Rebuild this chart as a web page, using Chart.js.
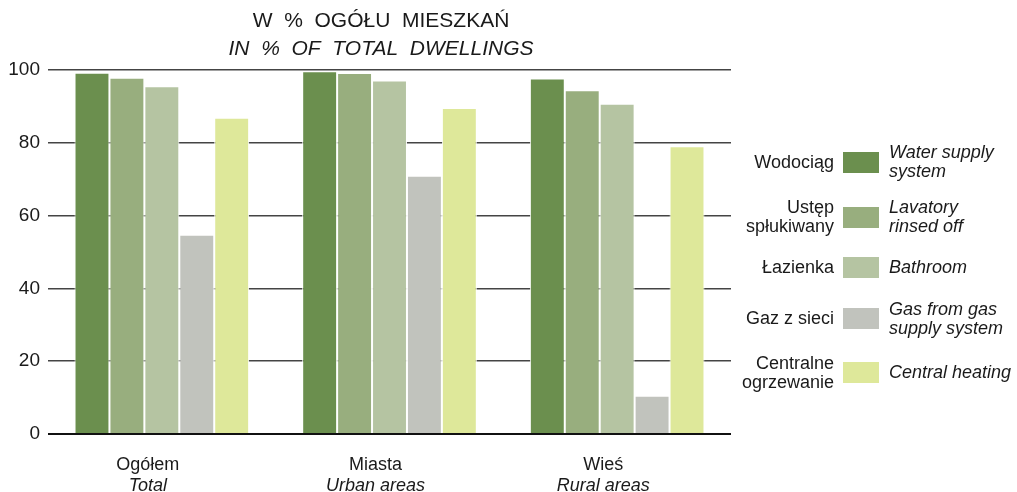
<!DOCTYPE html>
<html>
<head>
<meta charset="utf-8">
<script src="https://cdn.jsdelivr.net/npm/chart.js@4.4.0/dist/chart.umd.min.js"></script>
<style>
  html, body { margin: 0; padding: 0; background: #fff; }
  body { width: 1017px; height: 492px; position: relative; overflow: hidden;
         font-family: "Liberation Sans", Arial, sans-serif; color: #1a1a1a; }
  #wrap { position: absolute; left: 0; top: 0; width: 762px; height: 492px; }
  .row { position: absolute; left: 730px; width: 287px; height: 60px;
         display: flex; align-items: center; font-size: 18px; line-height: 19px; }
  .pl { width: 104px; text-align: right; margin-right: 9px; }
  .sw { width: 36px; height: 21px; flex: none; }
  .en { margin-left: 10px; font-style: italic; }
</style>
</head>
<body>
<div id="wrap"><canvas id="myChart"></canvas></div>
<div id="legend"></div>
<script>
// data
const categoriesPl = ['Ogółem', 'Miasta', 'Wieś'];
const categoriesEn = ['Total', 'Urban areas', 'Rural areas'];

const seriesPl = ['Wodociąg', 'Ustęp\nspłukiwany', 'Łazienka', 'Gaz z sieci', 'Centralne\nogrzewanie'];
const seriesEn = ['Water supply\nsystem', 'Lavatory\nrinsed off', 'Bathroom', 'Gas from gas\nsupply system', 'Central heating'];

const water    = [99.3, 99.7, 97.7];
const lavatory = [97.9, 99.2, 94.5];
const bathroom = [95.6, 97.2, 90.8];
const gas      = [54.8, 71.0, 10.5];
const heating  = [86.9, 89.6, 79.1];

const yTicks = [0, 20, 40, 60, 80, 100];

const colors = ['#6b8f4e', '#98ae7e', '#b5c4a2', '#c1c3bd', '#dee89a'];

const FONT = '"Liberation Sans", Arial, sans-serif';

// legend (html, right side)
const legendRowTops = [132, 187, 237, 288.5, 342.5];
const legend = document.getElementById('legend');
seriesPl.forEach((name, i) => {
  const row = document.createElement('div');
  row.className = 'row';
  row.style.top = legendRowTops[i] + 'px';
  row.innerHTML = '<div class="pl">' + name.replace('\n', '<br>') + '</div>' +
    '<div class="sw" style="background:' + colors[i] + '"></div>' +
    '<div class="en">' + seriesEn[i].replace('\n', '<br>') + '</div>';
  legend.appendChild(row);
});

// two-line category labels, second line italic
const catLabels = {
  id: 'catLabels',
  afterDraw(chart) {
    const ctx = chart.ctx;
    const x = chart.scales.x;
    const bottom = chart.chartArea.bottom;
    ctx.save();
    ctx.fillStyle = '#1a1a1a';
    ctx.textAlign = 'center';
    ctx.textBaseline = 'alphabetic';
    categoriesPl.forEach((c, i) => {
      const px = x.getPixelForValue(i) - 14;
      ctx.font = '18px ' + FONT;
      ctx.fillText(c, px, bottom + 36);
      ctx.font = 'italic 18px ' + FONT;
      ctx.fillText(categoriesEn[i], px, bottom + 57);
    });
    ctx.restore();
  }
};

// zero line on top of the bars
const zeroLine = {
  id: 'zeroLine',
  afterDatasetsDraw(chart) {
    const ctx = chart.ctx;
    const y = chart.scales.y.getPixelForValue(0);
    ctx.save();
    ctx.strokeStyle = '#111';
    ctx.lineWidth = 2;
    ctx.beginPath();
    ctx.moveTo(chart.chartArea.left, y);
    ctx.lineTo(chart.chartArea.right, y);
    ctx.stroke();
    ctx.restore();
  }
};

const seriesData = [water, lavatory, bathroom, gas, heating];

const ctx = document.getElementById('myChart');

new Chart(ctx, {
  type: 'bar',
  data: {
    labels: categoriesPl,
    datasets: seriesData.map((d, i) => ({
      label: seriesPl[i],
      data: d,
      backgroundColor: colors[i],
      borderColor: '#ffffff',
      borderWidth: 1,
      borderSkipped: 'bottom',
      barPercentage: 1,
      categoryPercentage: 0.767
    }))
  },
  options: {
    responsive: true,
    maintainAspectRatio: false,
    animation: false,
    layout: { padding: { left: 0, right: 0, bottom: 58, top: 0 } },
    scales: {
      x: {
        ticks: { display: false },
        grid: { display: false, drawTicks: false },
        border: { display: false }
      },
      y: {
        min: 0,
        max: 100,
        afterBuildTicks(scale) { scale.ticks = yTicks.map(v => ({ value: v })); },
        afterFit(scale) { scale.width = 48; },
        ticks: {
          padding: 8,
          color: '#1a1a1a',
          font: { family: FONT, size: 19 }
        },
        grid: { color: '#444', lineWidth: 1.5, drawTicks: false },
        border: { display: false }
      },
      // empty spacer on the right so the title stays centred on the whole width
      yRight: {
        position: 'right',
        min: 0,
        max: 100,
        ticks: { display: false },
        grid: { display: false, drawTicks: false },
        border: { display: false },
        afterFit(scale) { scale.width = 31; }
      }
    },
    plugins: {
      legend: { display: false },
      tooltip: { enabled: false },
      title: {
        display: true,
        text: 'W  %  OGÓŁU  MIESZKAŃ',
        color: '#1a1a1a',
        font: { family: FONT, size: 21, weight: 'normal', lineHeight: 1.1 },
        padding: { top: 10, bottom: 5 }
      },
      subtitle: {
        display: true,
        text: 'IN  %  OF  TOTAL  DWELLINGS',
        color: '#1a1a1a',
        font: { family: FONT, size: 21, style: 'italic', lineHeight: 1.1 },
        padding: { top: 0, bottom: 9 }
      }
    }
  },
  plugins: [catLabels, zeroLine]
});
</script>
</body>
</html>
